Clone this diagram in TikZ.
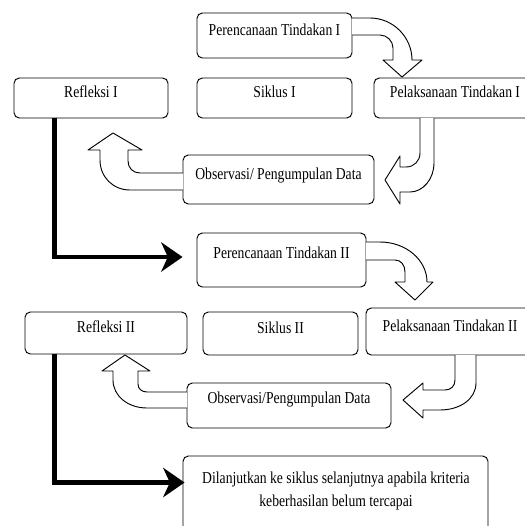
\documentclass[tikz,border=0pt]{standalone}
\usepackage{fontspec}
\setmainfont{Liberation Serif}[FakeStretch=0.82]
\usetikzlibrary{arrows.meta,fit,calc}
\begin{document}
\begin{tikzpicture}[x=0.75pt,y=-0.75pt,
  every node/.style={font=\fontsize{12.5}{17.25}\selectfont, text=black},
  box/.style={draw, line width=0.7pt, rounded corners=4pt, inner sep=0pt},
  blockarrow/.style={draw, line width=0.7pt, fill=white, line join=round},
  bigarrow/.style={line width=3.4pt, -{Stealth[length=16pt,width=22pt,inset=5pt]}}]
\useasboundingbox (0,0) rectangle (525,526);

% boxes
\node[box, fit={(197,13)(352,58)}] (p1) {Perencanaan Tindakan I};
\node[box, fit={(197,78)(352,118)}] (s1) {Siklus I};
\node[box, fit={(374,78)(536,118)}] (l1) {Pelaksanaan Tindakan I};
\node[box, fit={(14,78)(168,118)}] (r1) {Refleksi I};
\node[box, fit={(183,155)(374,204)}] (o1) {};
\node (o1t) at (278.5,176) {Observasi/ Pengumpulan Data};
\node[box, fit={(197,233)(366,287)}] (p2) {};
\node (p2t) at (281.5,253) {Perencanaan Tindakan II};
\node[box, fit={(366,308)(534,355)}] (l2) {Pelaksanaan Tindakan II};
\node[box, fit={(25,312)(187,354)}] (r2) {Refleksi II};
\node[box, fit={(203,312)(358,355)}] (s2) {Siklus II};
\node[box, fit={(187,383)(391,428)}] (o2) {Observasi/Pengumpulan Data};
\node[box, fit={(183,456)(488,535)}] (d) {};
\node[align=center] (dt) at (336,490.5) {Dilanjutkan ke siklus selanjutnya apabila kriteria\\ keberhasilan belum tercapai};

% block arrows
\draw[blockarrow] (352,18) -- (370,18) .. controls (393,18) and (412,37) .. (412,60) -- (422,60) -- (402,77) -- (383,60) -- (393,60) -- (393,48) .. controls (393,41) and (387,35) .. (380,35) -- (352,35);
\draw[blockarrow] (420,118) -- (420,153) .. controls (420,161) and (414,167) .. (406,167) -- (400,167) -- (400,156) -- (385,180) -- (400,204) -- (400,192) -- (410,192) .. controls (423,192) and (434,179) .. (434,163) -- (434,118);
\draw[blockarrow] (183,173) -- (140,173) .. controls (133,173) and (128,168) .. (128,161) -- (128,150) -- (142,150) -- (113,133) -- (88,150) -- (100,150) -- (100,160) .. controls (100,177) and (113,190) .. (130,190) -- (183,190);
\draw[blockarrow] (366,242) -- (380,242) .. controls (406,242) and (427,260) .. (427,282) -- (433,282) -- (415,300) -- (395,282) -- (405,282) -- (405,272) .. controls (405,265) and (401,260) .. (395,260) -- (366,260);
\draw[blockarrow] (455,355) -- (455,380) .. controls (455,386) and (451,390) .. (445,390) -- (423,390) -- (423,383) -- (403,400) -- (423,418) -- (423,410) -- (440,410) .. controls (460,410) and (476,399) .. (476,383) -- (476,355);
\draw[blockarrow] (187,392) -- (147,392) .. controls (142,392) and (138,389) .. (138,384) -- (138,371) -- (150,371) -- (125,355) -- (102,371) -- (113,371) -- (113,380) .. controls (113,396) and (128,408) .. (147,408) -- (187,408);

% thick arrows
\draw[bigarrow] ($(r1.south west)+(41,0)$) |- ($(p2.west)+(-14,-3)$);
\draw[bigarrow] ($(r2.south west)+(30,0)$) |- ($(d.north west)+(2,27)$);
\end{tikzpicture}
\end{document}
